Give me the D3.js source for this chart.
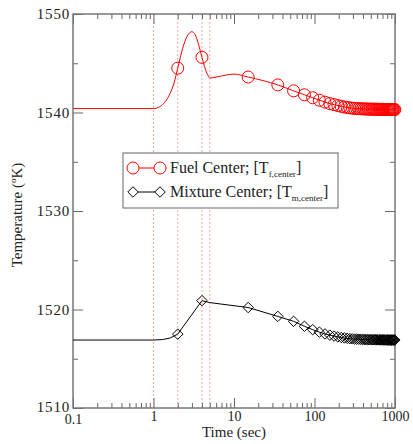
<!DOCTYPE html>
<html>
<head>
<meta charset="utf-8">
<script src="https://cdn.jsdelivr.net/npm/d3@7"></script>
<style>
  body { margin: 0; background: #fff; }
  svg text { font-family: "Liberation Serif", "DejaVu Serif", serif !important; }
</style>
</head>
<body>
<div id="chart"></div>
<script>
// Fuel center, fine resolution through the transient
const fuelTimes = [0.1, 1, 1.2, 1.4, 1.6, 1.8, 2, 2.3, 2.6, 3, 3.3, 3.6, 4, 4.4, 4.8, 5, 6, 8, 10];
const fuelTemps = [1540.4, 1540.4, 1540.6, 1541.1, 1541.9, 1543.0, 1544.5, 1546.5, 1547.7, 1548.2, 1547.9, 1547.0, 1545.6, 1544.4, 1543.7, 1543.5, 1543.6, 1543.8, 1543.9];

// Mixture center through the transient
const mixTimes = [0.1, 1, 1.3, 1.6, 2, 4, 5];
const mixTemps = [1516.9, 1516.9, 1516.95, 1517.1, 1517.5, 1520.9, 1520.7];

// Sampled output times after the transient
const sampleTimes = [15, 35, 55, 75, 95, 115, 135, 155, 175, 195,
  215, 235, 255, 275, 295, 315, 335, 355, 375, 395,
  415, 435, 455, 475, 495, 515, 535, 555, 575, 595,
  615, 635, 655, 675, 695, 715, 735, 755, 775, 795,
  815, 835, 855, 875, 895, 915, 935, 955, 975, 995];
const fuelSamples = [1543.6, 1542.8, 1542.2, 1541.8, 1541.5, 1541.25, 1541.05, 1540.9, 1540.8, 1540.7,
  1540.62, 1540.56, 1540.51, 1540.47, 1540.44, 1540.42, 1540.4, 1540.39, 1540.38, 1540.37,
  1540.36, 1540.36, 1540.35, 1540.35, 1540.34, 1540.34, 1540.34, 1540.33, 1540.33, 1540.33,
  1540.33, 1540.32, 1540.32, 1540.32, 1540.32, 1540.32, 1540.31, 1540.31, 1540.31, 1540.31,
  1540.31, 1540.31, 1540.31, 1540.3, 1540.3, 1540.3, 1540.3, 1540.3, 1540.3, 1540.3];
const mixSamples = [1520.2, 1519.3, 1518.8, 1518.3, 1517.95, 1517.7, 1517.52, 1517.4, 1517.3, 1517.22,
  1517.16, 1517.11, 1517.07, 1517.04, 1517.02, 1517.0, 1516.99, 1516.98, 1516.97, 1516.96,
  1516.95, 1516.95, 1516.94, 1516.94, 1516.94, 1516.93, 1516.93, 1516.93, 1516.93, 1516.92,
  1516.92, 1516.92, 1516.92, 1516.92, 1516.91, 1516.91, 1516.91, 1516.91, 1516.91, 1516.91,
  1516.9, 1516.9, 1516.9, 1516.9, 1516.9, 1516.9, 1516.9, 1516.9, 1516.9, 1516.9];

// Times that carry a symbol before the sampled part
const earlyMarkerTimes = [2, 4];
// Event times marked with dotted verticals
const eventTimes = [1, 2, 4, 5];

const xTicks = [0.1, 1, 10, 100, 1000];
const xTickLabels = ["0.1", "1", "10", "100", "1000"];
const yTicks = [1510, 1520, 1530, 1540, 1550];

const FONT = "Liberation Serif, DejaVu Serif, serif";

// Dimensions
const W = 413, H = 444;
const margin = { top: 14, right: 18, bottom: 36, left: 73 };
const width = W - margin.left - margin.right;
const height = H - margin.top - margin.bottom;

const x = d3.scaleLog().domain([0.1, 1000]).range([0, width]);
const y = d3.scaleLinear().domain([1510, 1550]).range([height, 0]);

const svg = d3.select("#chart").append("svg")
  .attr("width", W).attr("height", H)
  .attr("font-family", FONT);
const g = svg.append("g").attr("transform", `translate(${margin.left},${margin.top})`);

// Build series
const fuel = fuelTimes.map((t, i) => ({ t, v: fuelTemps[i] }))
  .concat(sampleTimes.map((t, i) => ({ t, v: fuelSamples[i] })));
const mix = mixTimes.map((t, i) => ({ t, v: mixTemps[i] }))
  .concat(sampleTimes.map((t, i) => ({ t, v: mixSamples[i] })));
const markerSet = new Set(earlyMarkerTimes.concat(sampleTimes));

// Event verticals
g.selectAll(".event").data(eventTimes).enter().append("line")
  .attr("x1", d => x(d)).attr("x2", d => x(d))
  .attr("y1", 0).attr("y2", height)
  .attr("stroke", "#e85050").attr("stroke-opacity", 0.7)
  .attr("stroke-width", 0.7).attr("stroke-dasharray", "2,2");

// Minor ticks
const minorX = [];
for (let d = 0.1; d < 1000; d *= 10) for (let k = 2; k <= 9; k++) minorX.push(+(d * k).toPrecision(3));
const minorY = [1515, 1525, 1535, 1545];

const tickStyle = sel => {
  sel.attr("font-family", FONT);
  sel.select(".domain").remove();
  sel.selectAll("line").attr("stroke", "#666").attr("stroke-width", 1);
};

g.append("g").attr("transform", `translate(0,${height})`)
  .call(d3.axisBottom(x).tickValues(minorX).tickSize(-5).tickFormat("")).call(tickStyle);
g.append("g")
  .call(d3.axisTop(x).tickValues(minorX).tickSize(-5).tickFormat("")).call(tickStyle);
g.append("g").attr("transform", `translate(0,${height})`)
  .call(d3.axisBottom(x).tickValues(xTicks).tickSize(-10).tickPadding(3)
    .tickFormat((d, i) => xTickLabels[i]))
  .call(tickStyle)
  .selectAll("text").attr("font-size", 14).attr("fill", "#222")
  .attr("dy", (d, i) => i === 0 ? "0.95em" : "0.71em");
g.append("g")
  .call(d3.axisTop(x).tickValues(xTicks).tickSize(-10).tickFormat("")).call(tickStyle);

g.append("g")
  .call(d3.axisLeft(y).tickValues(minorY).tickSize(-5).tickFormat("")).call(tickStyle);
g.append("g").attr("transform", `translate(${width},0)`)
  .call(d3.axisRight(y).tickValues(minorY).tickSize(-5).tickFormat("")).call(tickStyle);
g.append("g")
  .call(d3.axisLeft(y).tickValues(yTicks).tickSize(-10).tickPadding(3).tickFormat(d3.format("d")))
  .call(tickStyle)
  .selectAll("text").attr("font-size", 15).attr("fill", "#222")
  .attr("letter-spacing", 0.8)
  .attr("dy", d => d === 1510 ? "0.2em" : "0.32em");
g.append("g").attr("transform", `translate(${width},0)`)
  .call(d3.axisRight(y).tickValues(yTicks).tickSize(-10).tickFormat("")).call(tickStyle);

// Frame
g.append("rect").attr("width", width).attr("height", height)
  .attr("fill", "none").attr("stroke", "#777").attr("stroke-width", 1.5);

// Lines
g.append("path").datum(fuel)
  .attr("fill", "none").attr("stroke", "#ff0000").attr("stroke-width", 1)
  .attr("d", d3.line().x(d => x(d.t)).y(d => y(d.v)).curve(d3.curveMonotoneX));
g.append("path").datum(mix)
  .attr("fill", "none").attr("stroke", "#000").attr("stroke-width", 1)
  .attr("d", d3.line().x(d => x(d.t)).y(d => y(d.v)));

const diamond = d3.symbol().type(d3.symbolDiamond2).size(70);

g.selectAll(".fuel-pt").data(fuel.filter(d => markerSet.has(d.t))).enter().append("circle")
  .attr("cx", d => x(d.t)).attr("cy", d => y(d.v)).attr("r", 6)
  .attr("fill", "none").attr("stroke", "#ff0000").attr("stroke-width", 1);
g.selectAll(".mix-pt").data(mix.filter(d => markerSet.has(d.t))).enter().append("path")
  .attr("transform", d => `translate(${x(d.t)},${y(d.v)})`)
  .attr("d", diamond)
  .attr("fill", "none").attr("stroke", "#000").attr("stroke-width", 1);

// Legend
const lg = svg.append("g").attr("transform", "translate(123,153)");
lg.append("rect").attr("width", 215).attr("height", 55)
  .attr("fill", "#fff").attr("stroke", "#666").attr("stroke-width", 1);
const legendItems = [
  { label: "Fuel Center; [T", sub: "f,center", color: "#ff0000", shape: "circle" },
  { label: "Mixture Center; [T", sub: "m,center", color: "#000", shape: "diamond" }
];
legendItems.forEach((it, i) => {
  const row = lg.append("g").attr("transform", `translate(0,${15 + i * 24})`);
  row.append("line").attr("x1", 10).attr("x2", 37).attr("stroke", it.color);
  [10, 37].forEach(cx => {
    if (it.shape === "circle") {
      row.append("circle").attr("cx", cx).attr("r", 6)
        .attr("fill", "#fff").attr("stroke", it.color);
    } else {
      row.append("path").attr("transform", `translate(${cx},0)`).attr("d", diamond)
        .attr("fill", "#fff").attr("stroke", it.color);
    }
  });
  const t = row.append("text").attr("x", 47).attr("y", 5).attr("font-size", 16).attr("fill", "#222");
  t.append("tspan").text(it.label);
  t.append("tspan").attr("font-size", 9).attr("dy", 4).text(it.sub);
  t.append("tspan").attr("dy", -4).text("]");
});

// Axis titles
svg.append("text")
  .attr("x", margin.left + width / 2).attr("y", 437)
  .attr("text-anchor", "middle").attr("font-size", 15).attr("fill", "#222")
  .text("Time (sec)");
const yt = svg.append("text")
  .attr("transform", `translate(22,${margin.top + height / 2 + 4}) rotate(-90)`)
  .attr("text-anchor", "middle").attr("font-size", 15).attr("fill", "#222");
yt.append("tspan").text("Temperature (");
yt.append("tspan").attr("font-size", 9).attr("dy", -6).text("o");
yt.append("tspan").attr("dy", 6).text("K)");
</script>
</body>
</html>
